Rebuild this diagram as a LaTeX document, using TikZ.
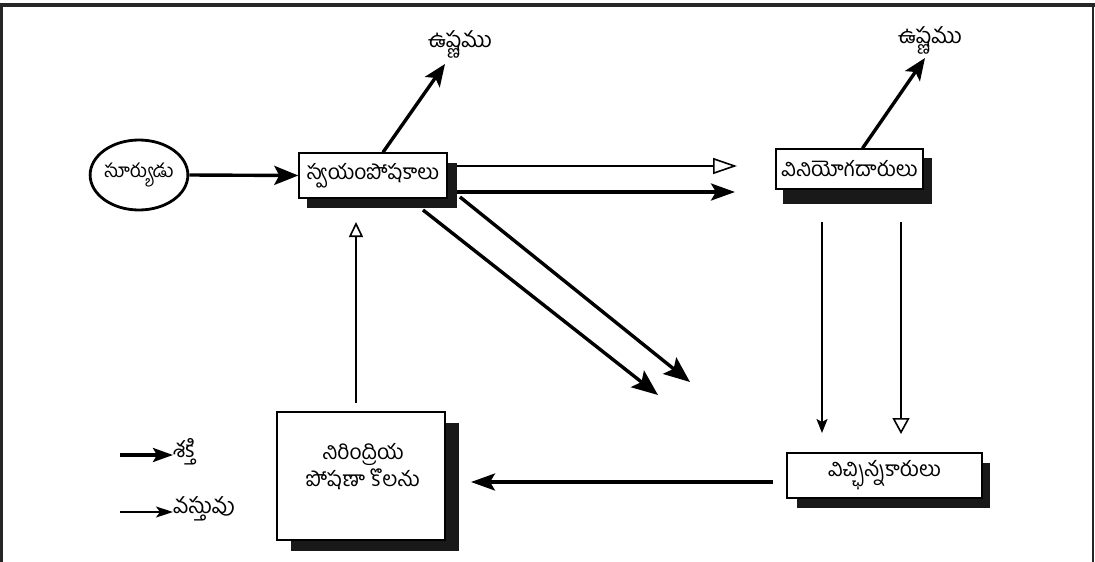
\documentclass[tikz,border=0pt]{standalone}
\usepackage{fontspec}
\newfontfamily\te[Script=Telugu]{Hind Guntur}
\usetikzlibrary{arrows.meta,shapes.geometric}
\tikzset{
  x=1pt, y=-1pt,
  lbl/.style={font=\te\fontsize{21}{25}\selectfont, inner sep=0pt},
  sunlbl/.style={font=\te\fontsize{19}{22}\selectfont, inner sep=0pt},
  small/.style={font=\te\fontsize{22}{26}\selectfont, inner sep=0pt},
  heatlbl/.style={font=\te\fontsize{22}{26}\selectfont, inner sep=0pt},
  boxw/.style={draw=black, fill=white, line width=1.4pt, inner sep=0pt},
  shadowbox/.style={fill=black!90, draw=none, inner sep=0pt},
  energy/.style={line width=3.4pt, -{Stealth[length=24pt,width=19pt,inset=5pt]}},
  matter/.style={line width=1.6pt, -{Stealth[length=14pt,width=11pt,inset=3pt]}},
}
\begin{document}
\begin{tikzpicture}
\useasboundingbox (0,0) rectangle (1095,562);
% frame
\draw[line width=3.5pt, black!85] (0,5) -- (1095,5);
\draw[line width=3.5pt, black!85] (1.7,3.5) -- (1.7,562);
\draw[line width=1.8pt, black!85] (1093,4) -- (1093,562);

% shadows
\node[shadowbox, minimum width=150, minimum height=45] (autoS) at (382,185.5) {};
\node[shadowbox, minimum width=149, minimum height=46] (consS) at (857.5,181) {};
\node[shadowbox, minimum width=193, minimum height=45] (decS) at (893.5,485.5) {};
\node[shadowbox, minimum width=168, minimum height=128] (poolS) at (375,487) {};

% boxes
\node[draw, ellipse, line width=2.8pt, minimum width=88, minimum height=70, inner sep=0pt, sunlbl] (sun) at (139,175) {సూర్యుడు};
\node[boxw, minimum width=148, minimum height=45, lbl] (auto) at (373,175.5) {స్వయంపోషకాలు};
\node[boxw, minimum width=147, minimum height=40, lbl] (cons) at (849.5,169) {వినియోగదారులు};
\node[boxw, minimum width=195, minimum height=45, lbl] (dec) at (884.5,475.5) {విచ్ఛిన్నకారులు};
\node[boxw, minimum width=168, minimum height=128] (pool) at (361,476) {};
\node[lbl, align=center] (poolt) at (363,467) {నిరింద్రియ\\[2pt]పోషణా కొలను};

% labels
\node[heatlbl] (heat1) at (460,44) {ఉష్ణము};
\node[heatlbl] (heat2) at (930,40) {ఉష్ణము};

% coordinates
\coordinate (h1) at (445,64);
\coordinate (h2) at (925,58);
\coordinate (ct) at (737,166);
\coordinate (cb) at (735,192);
\coordinate (d1s) at (423,210);
\coordinate (d1e) at (658,395);
\coordinate (d2s) at (460,197);
\coordinate (d2e) at (690,382);
\coordinate (v1s) at (822,222);
\coordinate (v1e) at (822,433);
\coordinate (v2s) at (901,222);
\coordinate (v2e) at (901,434);
\coordinate (ds) at (773,482);
\coordinate (pe) at (471,482);
\coordinate (ps) at (356,403);
\coordinate (pu) at (356,222);

% connectors
\draw[energy] (sun.east) -- (auto.west);
\draw[energy, -{Stealth[length=22pt,width=18pt,inset=5pt]}] ([xshift=10]auto.north) -- (h1);
\draw[energy, -{Stealth[length=22pt,width=18pt,inset=5pt]}] ([xshift=13]cons.north) -- (h2);
\draw[line width=1.6pt, -{Triangle[open,length=24pt,width=16pt,line width=1.6pt,fill=white]}] (autoS.east |- ct) -- (ct);
\draw[energy, -{Stealth[length=24pt,width=17pt,inset=5pt]}] (autoS.east |- cb) -- (cb);
\draw[energy, -{Stealth[length=26pt,width=21pt,inset=5pt]}] (d1s) -- (d1e);
\draw[energy, -{Stealth[length=26pt,width=21pt,inset=5pt]}] (d2s) -- (d2e);
\draw[matter] (v1s) -- (v1e);
\draw[line width=1.6pt, -{Triangle[open,length=16pt,width=17pt,line width=1.6pt,fill=white]}] (v2s) -- (v2e);
\draw[energy, -{Stealth[length=24pt,width=17pt,inset=5pt]}] (ds) -- (pe);
\draw[line width=1.6pt, -{Triangle[open,length=15pt,width=14pt,line width=1.6pt,fill=white]}] (ps) -- (pu);

% legend
\coordinate (l1s) at (120,455);
\coordinate (l2s) at (120,512);
\node[small, anchor=west] (en) at (173,452) {శక్తి};
\node[small, anchor=west] (ma) at (173,509) {వస్తువు};
\draw[line width=3.2pt, -{Stealth[length=20pt,width=14pt,inset=4pt]}] (l1s) -- (en.west |- l1s);
\draw[line width=1.5pt, -{Stealth[length=17pt,width=11pt,inset=4pt]}] (l2s) -- (ma.west |- l2s);
\end{tikzpicture}
\end{document}
